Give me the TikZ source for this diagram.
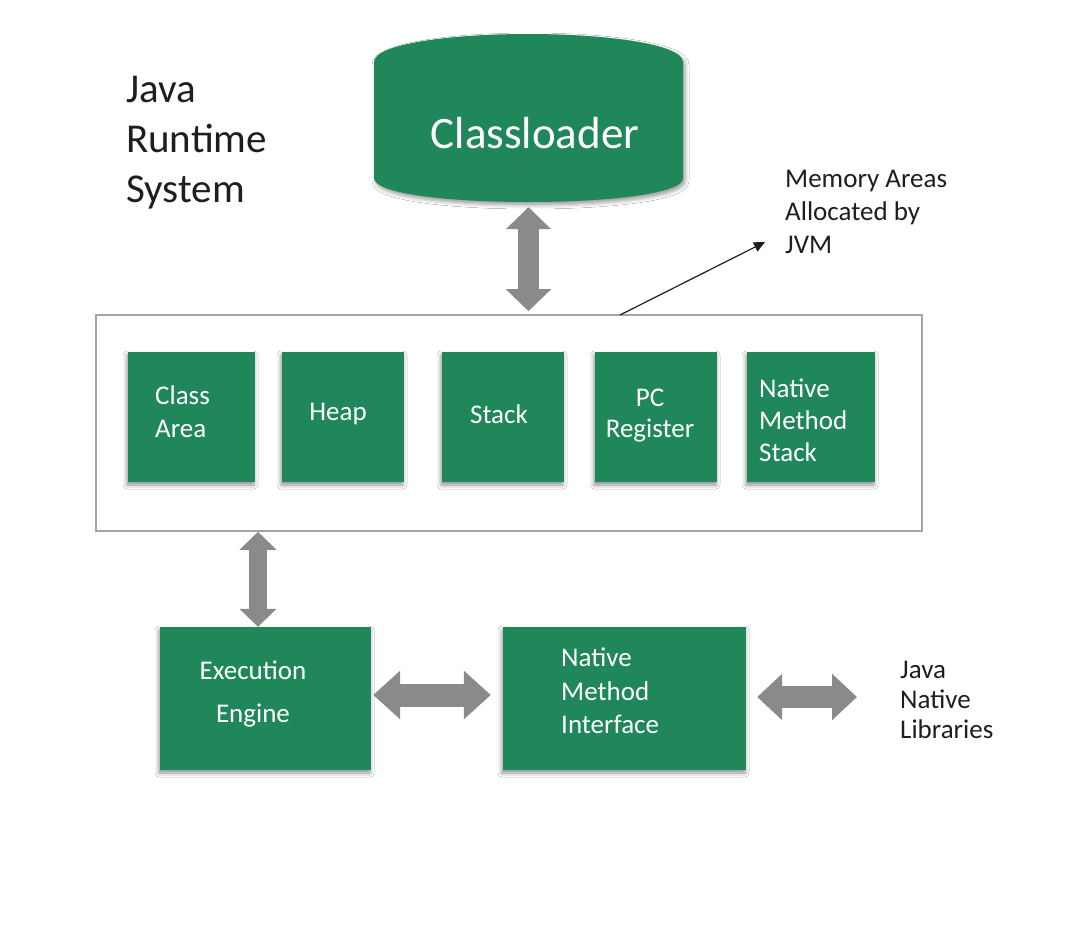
\documentclass[tikz,border=0pt]{standalone}
\usepackage{fontspec}
\setmainfont{Carlito}
\usetikzlibrary{arrows.meta,shadows.blur}
\definecolor{jgreen}{RGB}{31,135,89}
\definecolor{jgray}{RGB}{138,138,138}
\definecolor{bordergray}{RGB}{165,165,165}
\definecolor{ink}{RGB}{30,30,30}
\tikzset{
  gbox/.style={fill=jgreen, draw=none, inner sep=0pt,
    blur shadow={shadow xshift=-1pt, shadow yshift=-3pt, shadow blur radius=4pt, shadow opacity=45}},
  wtxt/.style={text=white, font=\fontsize{27}{33}\selectfont, inner sep=0pt},
  btxt/.style={text=ink, inner sep=0pt, align=left},
  fatarrow/.style n args={3}{draw=jgray, line width=#1,
    arrows={Triangle[width=#2,length=#3]-Triangle[width=#2,length=#3]}},
}
\begin{document}
\begin{tikzpicture}[x=1pt,y=-1pt]
\useasboundingbox[fill=white] (0,0) rectangle (1080,935);

% Classloader drum shape
\path[fill=jgreen, blur shadow={shadow xshift=2pt, shadow yshift=-3pt, shadow blur radius=4pt, shadow opacity=40}]
  (374,62)
  .. controls (374,44) and (450,34) .. (528,34)
  .. controls (606,34) and (683,44) .. (683,62)
  -- (683,178)
  .. controls (683,194) and (606,202) .. (528,202)
  .. controls (450,202) and (374,194) .. (374,178) -- cycle;
\node[inner sep=0pt, minimum width=309pt, minimum height=168pt] (cl) at (528.5,118) {};
\node[wtxt, font=\fontsize{45}{50}\selectfont] (cltxt) at (535,133) {Classloader};

% Title
\node[btxt, anchor=west, font=\fontsize{41}{50}\selectfont] (title) at (126,143) {Java\\Runtime\\System};

% Memory areas frame
\node[draw=bordergray, line width=1.6pt, minimum width=826pt, minimum height=216pt, inner sep=0pt] (mem) at (509,423) {};

% Memory boxes
\node[gbox, minimum width=127pt, minimum height=130pt] (ca) at (191.5,417) {};
\node[gbox, minimum width=122pt, minimum height=130pt] (heap) at (343,417) {};
\node[gbox, minimum width=122pt, minimum height=130pt] (stack) at (503,417) {};
\node[gbox, minimum width=122pt, minimum height=130pt] (pc) at (656,417) {};
\node[gbox, minimum width=128pt, minimum height=130pt] (nms) at (811,417) {};

\node[wtxt, anchor=west, align=left] (catxt) at (155,412) {Class\\Area};
\node[wtxt] (heaptxt) at (338,414) {Heap};
\node[wtxt] (stacktxt) at (499,414) {Stack};
\node[wtxt, align=center, font=\fontsize{27}{31}\selectfont] (pctxt) at (650,416) {PC\\Register};
\node[wtxt, anchor=west, align=left, font=\fontsize{27}{32}\selectfont] (nmstxt) at (759,420) {Native\\Method\\Stack};

% Annotation
\node[btxt, anchor=west, font=\fontsize{27}{33}\selectfont] (memtxt) at (785,212) {Memory Areas\\Allocated by\\JVM};
\coordinate (annstart) at (620,315);
\coordinate (annend) at (765,242);
\draw[ink, line width=1.2pt, -{Triangle[length=11pt,width=10pt]}] (annstart) -- (annend);

% Lower boxes
\node[gbox, minimum width=211pt, minimum height=143pt] (ee) at (265.5,698.5) {};
\node[wtxt, align=center, font=\fontsize{27}{43}\selectfont] (eetxt) at (253,694) {Execution\\Engine};
\node[gbox, minimum width=243pt, minimum height=143pt] (nmi) at (624.5,698.5) {};
\node[wtxt, anchor=west, align=left, font=\fontsize{27}{33.5}\selectfont] (nmitxt) at (561,691) {Native\\Method\\Interface};

\node[btxt, anchor=west, font=\fontsize{27}{30}\selectfont] (jnl) at (900,700) {Java\\Native\\Libraries};

% guide coordinates for arrow lines
\coordinate (vx) at (258,0);
\coordinate (hy1) at (0,695);
\coordinate (hy2) at (0,697);

% Fat double arrows
\draw[fatarrow={21pt}{44pt}{22pt}] ([yshift=-5pt]cl.south) -- ([yshift=3pt]cl.south |- mem.north);
\draw[fatarrow={18pt}{36pt}{18pt}] (mem.south -| vx) -- (ee.north -| vx);
\draw[fatarrow={23pt}{47pt}{27pt}] ([xshift=2pt]ee.east |- hy1) -- ([xshift=-12pt]nmi.west |- hy1);
\draw[fatarrow={22pt}{45pt}{25pt}] ([xshift=11pt]nmi.east |- hy2) -- ([xshift=-43pt]jnl.west |- hy2);
\end{tikzpicture}
\end{document}
